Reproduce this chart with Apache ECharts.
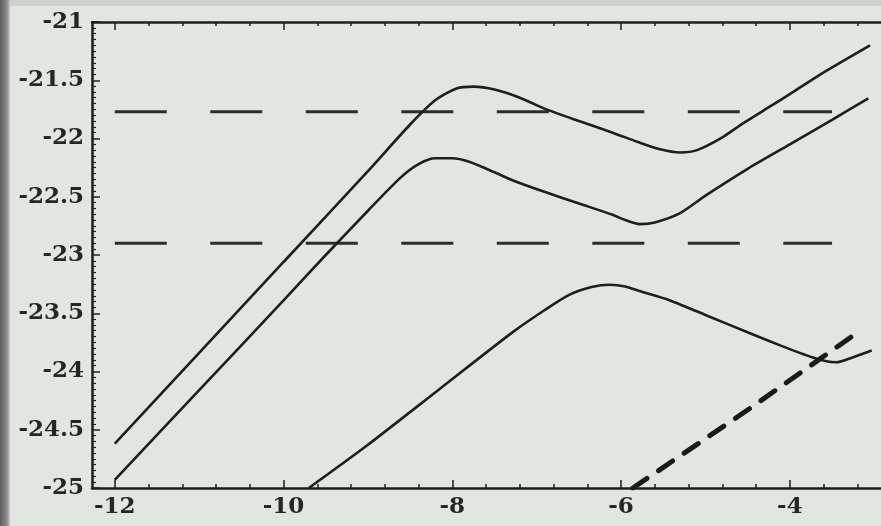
<!DOCTYPE html>
<html>
<head>
<meta charset="utf-8">
<script src="https://cdn.jsdelivr.net/npm/echarts@6/dist/echarts.min.js"></script>
<style>
  html, body { margin: 0; padding: 0; background: #e1e6e0; }
  #chart { width: 881px; height: 526px; }
</style>
</head>
<body>
<div id="chart"></div>
<script>
// axis ranges and tick labels
const xMin = -12.27
const xMax = -2.92
const yMin = -25
const yMax = -21
const xMajorTicks = [-12, -10, -8, -6, -4]
const xMinorTicks = [-11.6, -11.2, -10.8, -10.4, -9.6, -9.2, -8.8, -8.4, -7.6, -7.2, -6.8, -6.4, -5.6, -5.2, -4.8, -4.4, -3.6, -3.2]

// solid curves
const upperCurve = [
  [-12, -24.62], [-11, -23.84], [-10, -23.06], [-9, -22.28], [-8.5, -21.88],
  [-8.2, -21.67], [-7.95, -21.57], [-7.75, -21.555], [-7.5, -21.58], [-7.2, -21.65],
  [-6.885, -21.75], [-6.5, -21.85], [-6.1, -21.95], [-5.8, -22.03], [-5.55, -22.09],
  [-5.3, -22.12], [-5.1, -22.1], [-4.8, -21.99], [-4.555, -21.87], [-4.2, -21.71],
  [-3.96, -21.6], [-3.57, -21.42], [-3.05, -21.2]
]
const middleCurve = [
  [-12, -24.93], [-11, -24.16], [-10, -23.39], [-9.5, -23.0], [-9, -22.62],
  [-8.62, -22.34], [-8.4, -22.22], [-8.2, -22.17], [-8.0, -22.17], [-7.8, -22.2],
  [-7.5, -22.29], [-7.28, -22.36], [-6.9, -22.46], [-6.49, -22.56], [-6.1, -22.655],
  [-5.95, -22.7], [-5.78, -22.735], [-5.6, -22.72], [-5.3, -22.64], [-5.0, -22.49],
  [-4.5, -22.26], [-4.0, -22.05], [-3.5, -21.84], [-3.07, -21.655]
]
const lowerCurve = [
  [-9.7, -25], [-9.02, -24.64], [-8.15, -24.15], [-7.28, -23.66], [-6.9, -23.47],
  [-6.61, -23.34], [-6.35, -23.275], [-6.13, -23.255], [-5.95, -23.27], [-5.78, -23.31],
  [-5.42, -23.39], [-4.95, -23.53], [-4.48, -23.67], [-4.1, -23.78], [-3.73, -23.88],
  [-3.55, -23.915], [-3.45, -23.92], [-3.3, -23.89], [-3.03, -23.82]
]
// thick dashed line
const crossingLine = [[-5.86, -25], [-4.48, -24.32], [-3.15, -23.64]]

// horizontal dashed levels
const levelHigh = -21.77
const levelLow = -22.9
const levelFrom = -12
const levelTo = -3.5

const ink = '#1e1e1e'
const labelFont = {
  color: '#262626',
  fontFamily: 'DejaVu Serif',
  fontWeight: 'bold',
  fontSize: 23
}

const chart = echarts.init(document.getElementById('chart'))

function tickAxis(position, values, len, showLine, showLabel) {
  return {
    type: 'value',
    position: position,
    min: xMin,
    max: xMax,
    axisLine: { show: showLine, onZero: false, lineStyle: { color: ink, width: 2.5 } },
    axisTick: { show: true, inside: true, length: len, customValues: values, lineStyle: { color: ink, width: 1.5 } },
    axisLabel: showLabel
      ? Object.assign({ show: true, margin: 8, customValues: xMajorTicks }, labelFont)
      : { show: false },
    splitLine: { show: false }
  }
}

const solid = (data) => ({
  type: 'line',
  data: data,
  showSymbol: false,
  smooth: 0.25,
  lineStyle: { color: ink, width: 2.6 }
})

const level = (y) => ({
  type: 'line',
  data: [[levelFrom, y], [levelTo, y]],
  showSymbol: false,
  lineStyle: { color: '#2c2c2c', width: 3, type: [52, 43.5] }
})

chart.setOption({
  animation: false,
  backgroundColor: '#e1e6e0',
  graphic: [
    {
      type: 'rect', z: 0,
      shape: { x: 0, y: 0, width: 881, height: 6 },
      style: { fill: '#cfd1cf' }
    },
    {
      type: 'rect', z: 0,
      shape: { x: 0, y: 0, width: 10, height: 526 },
      style: {
        fill: new echarts.graphic.LinearGradient(0, 0, 1, 0, [
          { offset: 0, color: '#5e5e5e' },
          { offset: 0.7, color: '#8c8c8c' },
          { offset: 1, color: '#c9cdc9' }
        ])
      }
    }
  ],
  grid: { left: 92, right: 0, top: 22, bottom: 38 },
  xAxis: [
    tickAxis('bottom', xMajorTicks, 8, true, true),
    tickAxis('bottom', xMinorTicks, 4, false, false),
    tickAxis('top', xMajorTicks, 8, true, false),
    tickAxis('top', xMinorTicks, 4, false, false)
  ],
  yAxis: {
    type: 'value',
    min: yMin,
    max: yMax,
    interval: 0.5,
    axisLine: { show: true, onZero: false, lineStyle: { color: ink, width: 2.5 } },
    axisTick: { show: true, inside: true, length: 8, lineStyle: { color: ink, width: 1.5 } },
    minorTick: { show: true, splitNumber: 10, length: 4, lineStyle: { color: ink, width: 1.2 } },
    axisLabel: Object.assign({ margin: 8 }, labelFont),
    splitLine: { show: false }
  },
  series: [
    level(levelHigh),
    level(levelLow),
    solid(upperCurve),
    solid(middleCurve),
    solid(lowerCurve),
    {
      type: 'line',
      data: crossingLine,
      showSymbol: false,
      lineStyle: { color: '#1a1a1a', width: 5, type: [17, 14], cap: 'round' }
    }
  ]
})
</script>
</body>
</html>
